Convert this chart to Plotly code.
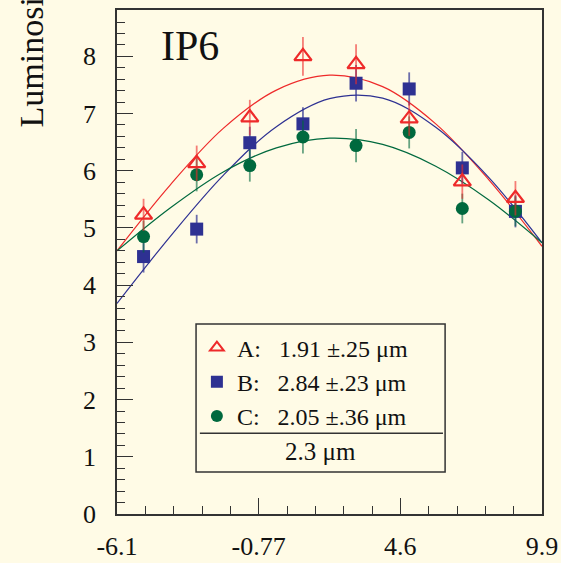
import plotly.graph_objects as go

# ---- data ----
scan_x = [-5.1, -3.1, -1.1, 0.9, 2.9, 4.9, 6.9, 8.9]
a_vals = [5.23, 6.13, 6.93, 8.00, 7.86, 6.91, 5.81, 5.52]
a_errs = [0.28, 0.31, 0.31, 0.34, 0.35, 0.30, 0.30, 0.30]
b_vals = [4.50, 4.98, 6.49, 6.82, 7.53, 7.43, 6.05, 5.29]
b_errs = [0.28, 0.25, 0.28, 0.29, 0.32, 0.29, 0.28, 0.28]
c_vals = [4.85, 5.93, 6.09, 6.59, 6.44, 6.67, 5.34, 5.29]
c_errs = [0.28, 0.29, 0.28, 0.29, 0.29, 0.28, 0.26, 0.26]

fit_x = [-6.1, -4.1, -2.1, -0.1, 1.9, 3.9, 5.9, 7.9, 9.9]
fit_a = [4.60, 5.75, 6.74, 7.41, 7.67, 7.47, 6.82, 5.84, 4.68]
fit_b = [3.68, 4.85, 5.92, 6.77, 7.26, 7.27, 6.76, 5.88, 4.74]
fit_c = [4.60, 5.35, 5.98, 6.40, 6.57, 6.46, 6.08, 5.49, 4.74]

x_tickvals = [-6.1, -6.1 + 16 / 3, -6.1 + 32 / 3, 9.9]
x_ticktext = ["-6.1", "-0.77", "4.6", "9.9"]

labels = ["A:\u00a0\u00a0\u00a01.91 \u00b1.25 \u03bcm",
          "B:\u00a0\u00a0\u00a02.84 \u00b1.23 \u03bcm",
          "C:\u00a0\u00a0\u00a02.05 \u00b1.36 \u03bcm"]
combined = "2.3 \u03bcm"

RED = "#ee2a2a"
BLUE = "#2e3192"
GREEN = "#00693e"
FONT = "Liberation Serif"
BG = "#fffbe6"

fig = go.Figure()

# fitted curves
for fy, col in [(fit_a, RED), (fit_b, BLUE), (fit_c, GREEN)]:
    fig.add_trace(go.Scatter(x=fit_x, y=fy, mode="lines",
                             line=dict(color=col, width=1.2, shape="spline"),
                             showlegend=False, hoverinfo="skip"))

# data points (B, C, then A on top)
fig.add_trace(go.Scatter(x=scan_x, y=b_vals, mode="markers", name=labels[1],
                         marker=dict(symbol="square", size=13, color=BLUE),
                         error_y=dict(type="data", array=b_errs, width=0, thickness=1.8,
                                      color="rgba(46,49,146,0.7)"),
                         legendrank=2))
fig.add_trace(go.Scatter(x=scan_x, y=c_vals, mode="markers", name=labels[2],
                         marker=dict(symbol="circle", size=13, color=GREEN),
                         error_y=dict(type="data", array=c_errs, width=0, thickness=1.8,
                                      color="rgba(0,105,62,0.6)"),
                         legendrank=3))
fig.add_trace(go.Scatter(x=scan_x, y=a_vals, mode="markers", name=labels[0],
                         marker=dict(symbol="triangle-up-open", size=15, color=RED,
                                     line=dict(width=2.2, color=RED)),
                         error_y=dict(type="data", array=a_errs, width=0, thickness=1.8,
                                      color="rgba(238,42,42,0.6)"),
                         legendrank=1))

axis_common = dict(showline=True, linecolor="#333333", linewidth=1.5, mirror=True,
                   ticks="inside", ticklen=16, tickwidth=1.2, tickcolor="#333333",
                   showgrid=False, zeroline=False, automargin=False,
                   tickfont=dict(family=FONT, size=26, color="#111111"))

fig.update_xaxes(range=[-6.1, 9.9], tickmode="array", tickvals=x_tickvals,
                 ticktext=x_ticktext, ticklabelstandoff=8,
                 minor=dict(tickmode="linear", tick0=-6.1, dtick=16 / 15, ticks="inside",
                            ticklen=8, tickwidth=1.2, tickcolor="#333333"),
                 **axis_common)
fig.update_yaxes(range=[0, 8.81], tickmode="linear", tick0=0, dtick=1,
                 ticklabelstandoff=14,
                 minor=dict(tickmode="linear", tick0=0, dtick=0.2, ticks="inside",
                            ticklen=8, tickwidth=1.2, tickcolor="#333333"),
                 **axis_common)

# legend box, separator, combined result
fig.add_shape(type="rect", xref="paper", yref="paper", x0=0.186, x1=0.772, y0=0.0833, y1=0.377,
              line=dict(color="#333333", width=1.5), fillcolor=BG, layer="below")
fig.add_shape(type="line", xref="paper", yref="paper", x0=0.195, x1=0.767, y0=0.160, y1=0.160,
              line=dict(color="#333333", width=1.5))
fig.add_annotation(xref="paper", yref="paper", x=0.478, y=0.1236, text=combined,
                   showarrow=False, xanchor="center", yanchor="middle",
                   font=dict(family=FONT, size=25, color="#111111"))

# IP6 label
fig.add_annotation(xref="paper", yref="paper", x=(159 - 117) / 425, y=(514 - 46) / 504,
                   text="IP6", showarrow=False, xanchor="left", yanchor="middle",
                   font=dict(family=FONT, size=42, color="#111111"))

# y-axis title (cut off at the top as in the original)
fig.add_annotation(xref="paper", yref="paper", x=(31 - 117) / 425, y=(514 - 130) / 504,
                   text="Luminosity", showarrow=False, textangle=-90,
                   xanchor="center", yanchor="bottom",
                   font=dict(family=FONT, size=34, color="#111111"))

fig.update_layout(
    width=561, height=563,
    margin=dict(l=117, r=19, t=10, b=49),
    paper_bgcolor=BG, plot_bgcolor=BG,
    font=dict(family=FONT, color="#111111"),
    legend=dict(x=0.188, y=0.374, xanchor="left", yanchor="top",
                bgcolor="rgba(0,0,0,0)", borderwidth=0,
                font=dict(family=FONT, size=24, color="#111111"),
                tracegroupgap=0, itemsizing="constant"),
    showlegend=True,
)

fig.write_html("out.html")
